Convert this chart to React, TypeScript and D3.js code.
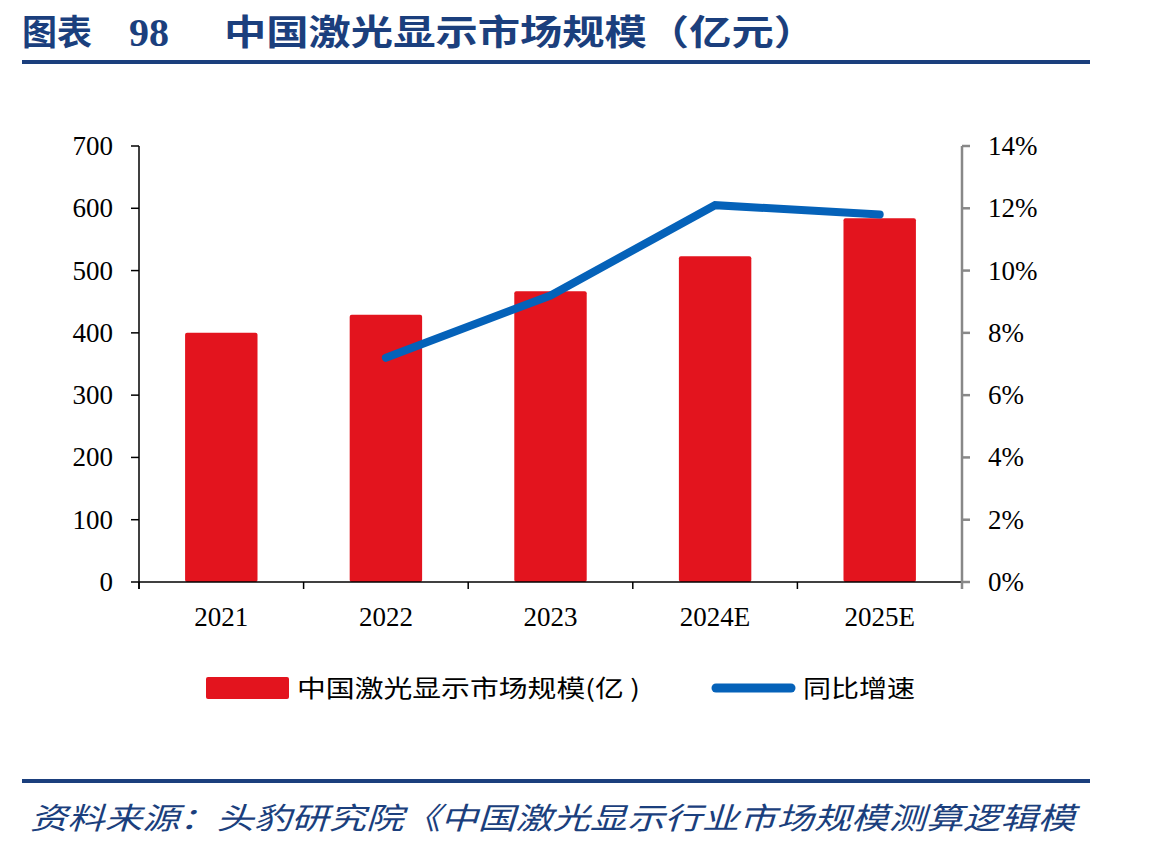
import React from 'react';
import * as d3 from 'd3';

const years = ['2021', '2022', '2023', '2024E', '2025E'];
const marketSize = [400, 429, 467, 523, 584];
const growthYears = ['2022', '2023', '2024E', '2025E'];
const growthRate = [0.072, 0.092, 0.121, 0.118];
const leftTicks = [0, 100, 200, 300, 400, 500, 600, 700];
const rightTicks = [0, 0.02, 0.04, 0.06, 0.08, 0.1, 0.12, 0.14];

const NAVY = '#1b3f7d';
const RED = '#e3141e';
const BLUE = '#0562b9';
const SERIF = '"Liberation Serif", "Times New Roman", serif';
const CJK = '"Noto Sans CJK SC", sans-serif';

const App = () => {
  const width = 1149;
  const height = 849;
  const margin = { left: 139, right: 962, top: 146, bottom: 582 };

  const x = d3.scaleBand().domain(years).range([margin.left, margin.right]).paddingInner(0.56).paddingOuter(0.28);
  const band = d3.scaleBand().domain(years).range([margin.left, margin.right]);
  const yLeft = d3.scaleLinear().domain([0, 700]).range([margin.bottom, margin.top]);
  const yRight = d3.scaleLinear().domain([0, 0.14]).range([margin.bottom, margin.top]);

  const line = d3
    .line<number>()
    .x((_, i) => (band(growthYears[i]) as number) + band.bandwidth() / 2)
    .y((d) => yRight(d));

  const boundaries = years.map((y) => band(y) as number).concat([margin.right]);

  return (
    <svg width={width} height={height} style={{ position: 'absolute', left: 0, top: 0 }}>
      <rect width={width} height={height} fill="#fff" />

      {/* title */}
      <text x={22} y={45} fill={NAVY} fontFamily={CJK} fontWeight="bold" fontSize={35}>图表</text>
      <text x={129} y={46} fill={NAVY} fontFamily={SERIF} fontWeight="bold" fontSize={40}>98</text>
      <text x={224} y={45} fill={NAVY} fontFamily={CJK} fontWeight="bold" fontSize={35} textLength={592} lengthAdjust="spacingAndGlyphs">
        中国激光显示市场规模（亿元）
      </text>
      <rect x={22} y={60} width={1068} height={4} fill={NAVY} />

      {/* bars */}
      {years.map((yr, i) => (
        <rect
          key={yr}
          x={x(yr)}
          y={yLeft(marketSize[i])}
          width={x.bandwidth()}
          height={yLeft(0) - yLeft(marketSize[i])}
          rx={2}
          fill={RED}
        />
      ))}

      {/* x axis */}
      <line x1={margin.left} x2={margin.right} y1={margin.bottom} y2={margin.bottom} stroke="#000" strokeWidth={1.5} />
      {boundaries.map((b, i) => (
        <line key={i} x1={b} x2={b} y1={margin.bottom} y2={margin.bottom + 7} stroke="#000" strokeWidth={1.5} />
      ))}
      {years.map((yr) => (
        <text
          key={yr}
          x={(band(yr) as number) + band.bandwidth() / 2}
          y={626}
          textAnchor="middle"
          fontFamily={SERIF}
          fontSize={27}
          fill="#000"
        >
          {yr}
        </text>
      ))}

      {/* left axis */}
      <line x1={margin.left} x2={margin.left} y1={margin.top} y2={margin.bottom + 7} stroke="#000" strokeWidth={1.5} />
      {leftTicks.map((t) => (
        <g key={t}>
          <line x1={margin.left - 8} x2={margin.left} y1={yLeft(t)} y2={yLeft(t)} stroke="#000" strokeWidth={1.5} />
          <text x={113} y={yLeft(t) + 9} textAnchor="end" fontFamily={SERIF} fontSize={27} fill="#000">
            {t}
          </text>
        </g>
      ))}

      {/* right axis */}
      <line x1={margin.right} x2={margin.right} y1={margin.top} y2={margin.bottom + 7} stroke="#888" strokeWidth={2.5} />
      {rightTicks.map((t) => (
        <g key={t}>
          <line x1={margin.right} x2={margin.right + 8} y1={yRight(t)} y2={yRight(t)} stroke="#888" strokeWidth={2.5} />
          <text x={988} y={yRight(t) + 9} fontFamily={SERIF} fontSize={27} fill="#000">
            {d3.format('.0%')(t)}
          </text>
        </g>
      ))}

      {/* growth line */}
      <path d={line(growthRate) as string} fill="none" stroke={BLUE} strokeWidth={8} strokeLinecap="round" strokeLinejoin="miter" />

      {/* legend */}
      <rect x={206} y={677} width={83} height={22} rx={2} fill={RED} />
      <text x={297} y={697} fontFamily={CJK} fontSize={24} fill="#000" textLength={343} lengthAdjust="spacingAndGlyphs">
        中国激光显示市场规模(亿 )
      </text>
      <line x1={716} x2={791} y1={688} y2={688} stroke={BLUE} strokeWidth={9} strokeLinecap="round" />
      <text x={803} y={697} fontFamily={CJK} fontSize={24} fill="#000" textLength={112} lengthAdjust="spacingAndGlyphs">
        同比增速
      </text>

      {/* source */}
      <rect x={22} y={779} width={1068} height={4} fill={NAVY} />
      <text x={30} y={829} fill={NAVY} fontFamily={CJK} fontStyle="italic" fontSize={30} textLength={1045} lengthAdjust="spacingAndGlyphs">
        资料来源：头豹研究院《中国激光显示行业市场规模测算逻辑模
      </text>
    </svg>
  );
};

export default App;
